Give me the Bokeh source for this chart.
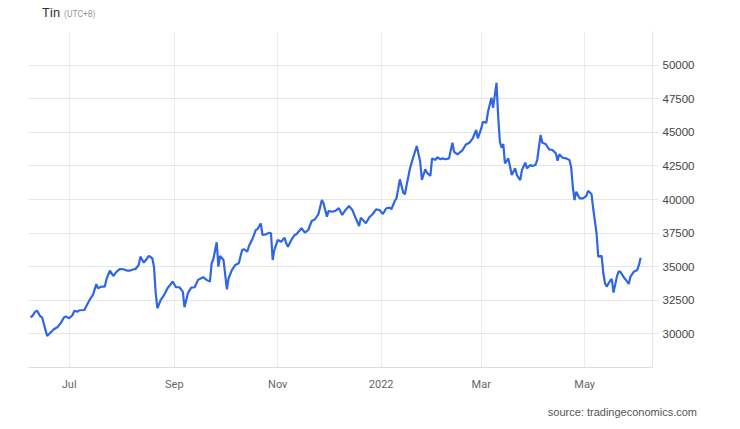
import pandas as pd
from bokeh.plotting import figure
from bokeh.models import FixedTicker, Range1d, Div
from bokeh.layouts import column
from bokeh.embed import file_html
from bokeh.resources import INLINE

dates = [
    "2021-06-08", "2021-06-09", "2021-06-11", "2021-06-12", "2021-06-14", "2021-06-15",
    "2021-06-17", "2021-06-18", "2021-06-20", "2021-06-22", "2021-06-24", "2021-06-26",
    "2021-06-28", "2021-06-29", "2021-07-01", "2021-07-03", "2021-07-04", "2021-07-06",
    "2021-07-07", "2021-07-10", "2021-07-11", "2021-07-13", "2021-07-15", "2021-07-17",
    "2021-07-18", "2021-07-20", "2021-07-22", "2021-07-23", "2021-07-25", "2021-07-27",
    "2021-07-29", "2021-07-31", "2021-08-02", "2021-08-04", "2021-08-06", "2021-08-08",
    "2021-08-09", "2021-08-11", "2021-08-12", "2021-08-14", "2021-08-16", "2021-08-17",
    "2021-08-19", "2021-08-20", "2021-08-21", "2021-08-22", "2021-08-24", "2021-08-26",
    "2021-08-28", "2021-08-31", "2021-09-02", "2021-09-04", "2021-09-06", "2021-09-07",
    "2021-09-09", "2021-09-11", "2021-09-13", "2021-09-15", "2021-09-18", "2021-09-20",
    "2021-09-22", "2021-09-23", "2021-09-24", "2021-09-26", "2021-09-27", "2021-09-28",
    "2021-09-30", "2021-10-02", "2021-10-03", "2021-10-05", "2021-10-07", "2021-10-09",
    "2021-10-11", "2021-10-12", "2021-10-14", "2021-10-15", "2021-10-17", "2021-10-19",
    "2021-10-20", "2021-10-22", "2021-10-23", "2021-10-25", "2021-10-27", "2021-10-28",
    "2021-10-29", "2021-10-30", "2021-11-01", "2021-11-03", "2021-11-05", "2021-11-06",
    "2021-11-07", "2021-11-09", "2021-11-11", "2021-11-12", "2021-11-15", "2021-11-17",
    "2021-11-19", "2021-11-21", "2021-11-23", "2021-11-25", "2021-11-27", "2021-11-28",
    "2021-11-30", "2021-12-01", "2021-12-03", "2021-12-05", "2021-12-07", "2021-12-09",
    "2021-12-11", "2021-12-13", "2021-12-15", "2021-12-17", "2021-12-19", "2021-12-20",
    "2021-12-23", "2021-12-25", "2021-12-27", "2021-12-29", "2021-12-31", "2022-01-02",
    "2022-01-04", "2022-01-06", "2022-01-07", "2022-01-09", "2022-01-10", "2022-01-11",
    "2022-01-12", "2022-01-14", "2022-01-15", "2022-01-16", "2022-01-18", "2022-01-20",
    "2022-01-22", "2022-01-24", "2022-01-25", "2022-01-27", "2022-01-28", "2022-01-30",
    "2022-01-31", "2022-02-02", "2022-02-03", "2022-02-05", "2022-02-06", "2022-02-08",
    "2022-02-10", "2022-02-12", "2022-02-13", "2022-02-15", "2022-02-18", "2022-02-20",
    "2022-02-22", "2022-02-24", "2022-02-26", "2022-02-27", "2022-03-01", "2022-03-02",
    "2022-03-04", "2022-03-05", "2022-03-07", "2022-03-08", "2022-03-10", "2022-03-11",
    "2022-03-12", "2022-03-13", "2022-03-14", "2022-03-15", "2022-03-17", "2022-03-18",
    "2022-03-19", "2022-03-21", "2022-03-22", "2022-03-24", "2022-03-25", "2022-03-27",
    "2022-03-28", "2022-03-30", "2022-03-31", "2022-04-02", "2022-04-03", "2022-04-05",
    "2022-04-06", "2022-04-08", "2022-04-10", "2022-04-12", "2022-04-14", "2022-04-15",
    "2022-04-16", "2022-04-18", "2022-04-20", "2022-04-22", "2022-04-23", "2022-04-24",
    "2022-04-25", "2022-04-26", "2022-04-28", "2022-04-30", "2022-05-02", "2022-05-03",
    "2022-05-05", "2022-05-06", "2022-05-08", "2022-05-09", "2022-05-11", "2022-05-12",
    "2022-05-13", "2022-05-14", "2022-05-16", "2022-05-17", "2022-05-18", "2022-05-20",
    "2022-05-21", "2022-05-22", "2022-05-24", "2022-05-25", "2022-05-27", "2022-05-28",
    "2022-05-30", "2022-06-01", "2022-06-02", "2022-06-03",
]

prices = [
    31290, 31290, 31660, 31730, 31290, 31240,
    30300, 29850, 30100, 30350, 30500, 30800,
    31240, 31290, 31170, 31410, 31710, 31660,
    31760, 31780, 32030, 32530, 32900, 33700,
    33400, 33520, 33520, 34070, 34710, 34310,
    34630, 34830, 34810, 34710, 34710, 34810,
    34810, 35130, 35750, 35300, 35630, 35800,
    35630, 35000, 33050, 31910, 32530, 32900,
    33400, 33890, 33470, 33470, 33150, 31990,
    33030, 33440, 33470, 34020, 34220, 34020,
    33890, 35260, 35550, 36820, 35000, 35800,
    35500, 33320, 34140, 34760, 35130, 35260,
    36250, 36300, 36120, 36540, 37040, 37730,
    37780, 38230, 37360, 37410, 37530, 37490,
    35500, 36250, 36990, 36860, 37160, 36740,
    36490, 36990, 37360, 37410, 37860, 37530,
    37730, 38400, 38530, 38920, 39960, 39720,
    38720, 39150, 39090, 39150, 39350, 38850,
    39220, 39520, 39220, 38600, 38030, 38650,
    38230, 38680, 38920, 39270, 39220, 38920,
    39350, 39390, 39270, 39890, 40090, 40760,
    41500, 40510, 40390, 41080, 42320, 43180,
    43980, 42810, 41450, 42250, 41990, 41750,
    43060, 42940, 43140, 42990, 43060, 42990,
    43060, 44220, 43550, 43360, 43680, 44100,
    44220, 44550, 45170, 44550, 45290, 45780,
    45710, 46530, 47570, 46830, 48680, 46160,
    44300, 43850, 44130, 42690, 43060, 42440,
    41820, 42320, 41820, 41450, 42190, 42740,
    42320, 42570, 42490, 42570, 42940, 44800,
    44220, 44130, 43730, 43680, 43430, 42890,
    43360, 43110, 43060, 42940, 42440, 40950,
    39960, 40580, 40090, 40090, 40260, 40650,
    40410, 39350, 37490, 35750, 35800, 34510,
    33770, 33520, 33960, 34070, 33070, 34260,
    34630, 34630, 34220, 34070, 33720, 34260,
    34630, 34760, 35130, 35670,
]

x_start, x_end = "2021-06-07", "2022-06-10"
y_min, y_max = 27500, 52500
y_ticks = [30000, 32500, 35000, 37500, 40000, 42500, 45000, 47500, 50000]
y_grid_ticks = [27500, 30000, 32500, 35000, 37500, 40000, 42500, 45000, 47500, 50000, 52500]
month_ticks = ["2021-07-01", "2021-09-01", "2021-11-01", "2022-01-01", "2022-03-01", "2022-05-01"]
month_labels = ["Jul", "Sep", "Nov", "2022", "Mar", "May"]
title_text = "Tin"
title_note = "(UTC+8)"
source_text = "source: tradingeconomics.com"


def ms(d):
    return int(pd.Timestamp(d).timestamp() * 1000)


x = pd.to_datetime(dates)

p = figure(
    width=732, height=376,
    x_axis_type="datetime",
    x_range=Range1d(pd.Timestamp(x_start), pd.Timestamp(x_end)),
    y_range=Range1d(y_min, y_max),
    y_axis_location="right",
    output_backend="svg", toolbar_location=None,
    min_border_left=28, min_border_right=80,
    min_border_top=7, min_border_bottom=33,
    margin=0,
)
p.outline_line_color = None
p.background_fill_color = "white"
p.border_fill_color = "white"

tick_ms = [ms(d) for d in month_ticks]
p.xaxis.ticker = FixedTicker(ticks=tick_ms)
p.xaxis.major_label_overrides = {t: l for t, l in zip(tick_ms, month_labels)}
p.xaxis.axis_line_color = "#dcdcdc"
p.xaxis.major_tick_line_color = None
p.xaxis.minor_tick_line_color = None
p.xaxis.major_label_text_font = "Roboto"
p.xaxis.major_label_text_font_size = "11px"
p.xaxis.major_label_text_color = "#666666"
p.xaxis.major_label_standoff = 4

p.yaxis.ticker = FixedTicker(ticks=y_ticks)
p.yaxis.axis_line_color = "#e6e6e6"
p.yaxis.major_tick_out = 6
p.yaxis.major_tick_in = 0
p.yaxis.major_tick_line_color = "#e6e6e6"
p.yaxis.minor_tick_line_color = None
p.yaxis.major_label_text_font = "Liberation Sans"
p.yaxis.major_label_text_font_size = "11.5px"
p.yaxis.major_label_text_color = "#444444"
p.yaxis.major_label_standoff = 4

p.xgrid.grid_line_color = "#ececec"
p.ygrid.ticker = FixedTicker(ticks=y_grid_ticks)
p.ygrid.grid_line_color = "#e6e6e6"

p.line(x=x, y=prices, line_color="#2f66e4", line_width=2.2)

head = Div(
    text=(f'<span style="font-family:Roboto;font-size:13px;color:#333333;">{title_text}</span>'
          f'<span style="font-family:Roboto;font-size:8.5px;color:#999999;margin-left:4px;">{title_note}</span>'),
    width=732, height=24, margin=0,
    styles={"padding-left": "42px", "padding-top": "3px", "line-height": "20px",
            "box-sizing": "border-box", "white-space": "nowrap"},
)
foot = Div(
    text=f'<span style="font-family:\'Liberation Sans\';font-size:11px;color:#555555;">{source_text}</span>',
    width=732, height=24, margin=0,
    styles={"text-align": "right", "padding-right": "35px", "line-height": "24px",
            "box-sizing": "border-box", "white-space": "nowrap"},
)

layout = column(head, p, foot, spacing=0, margin=0)

open("out.html", "w").write(file_html(layout, INLINE))
